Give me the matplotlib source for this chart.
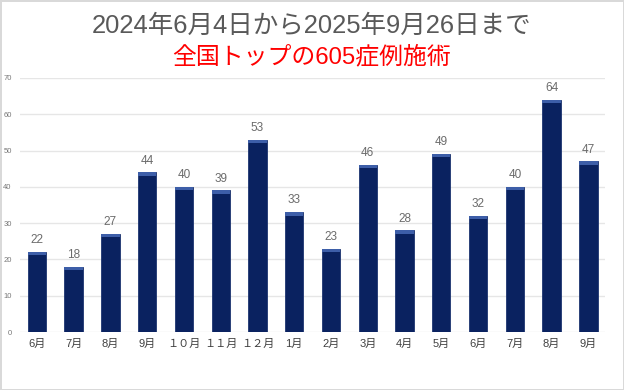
import matplotlib
matplotlib.use('Agg')

import matplotlib.pyplot as plt
import numpy as np

plt.rcParams['font.family'] = ['Liberation Sans', 'Noto Sans CJK JP', 'DejaVu Sans']

months = ['6月', '7月', '8月', '9月', '１０月', '１１月', '１２月', '1月',
          '2月', '3月', '4月', '5月', '6月', '7月', '8月', '9月']
cases = [22, 18, 27, 44, 40, 39, 53, 33, 23, 46, 28, 49, 32, 40, 64, 47]
yticks = [0, 10, 20, 30, 40, 50, 60, 70]

title1 = '2024年6月4日から2025年9月26日まで'
title2 = '全国トップの605症例施術'

fig = plt.figure(figsize=(6.24, 3.9), dpi=100)
fig.patch.set_facecolor('white')
fig.patch.set_edgecolor('#d9d9d9')
fig.patch.set_linewidth(2)

ax = fig.add_axes([0.032, 0.1487, 0.938, 0.6513])
x = np.arange(len(cases))
vals = np.array(cases)

ax.bar(x, vals, width=0.5, color='#0a2260', edgecolor='#1c3470', linewidth=0.6, zorder=3)
# lighter cap on top of each bar
ax.bar(x, np.full(len(vals), 0.9), bottom=vals - 0.9, width=0.5,
       color='#3d5ea8', linewidth=0, zorder=4)

for xi, v in zip(x, vals):
    ax.text(xi, v + 1.6, str(v), ha='center', va='bottom',
            fontsize=8.5, color='#6b6b6b')

ax.set_xlim(-0.46, len(cases) - 0.54)
ax.set_ylim(0, 70)
ax.set_yticks(yticks)
ax.set_yticklabels([str(t) for t in yticks], fontsize=5.5, color='#777777')
ax.set_xticks(x)
ax.set_xticklabels(months, fontsize=8, color='#404040')
ax.tick_params(axis='both', length=0)
ax.tick_params(axis='x', pad=5)
ax.tick_params(axis='y', pad=6)
ax.grid(axis='y', color='#e6e6e6', linewidth=1, zorder=0)
for s in ax.spines.values():
    s.set_visible(False)

fig.text(0.5, 1 - 26 / 390, title1, ha='center', va='center',
         fontsize=18.4, color='#595959')
fig.text(0.5, 1 - 57 / 390, title2, ha='center', va='center',
         fontsize=17.2, color='#ff0000')

plt.savefig('out.png', dpi=100)
plt.close()
